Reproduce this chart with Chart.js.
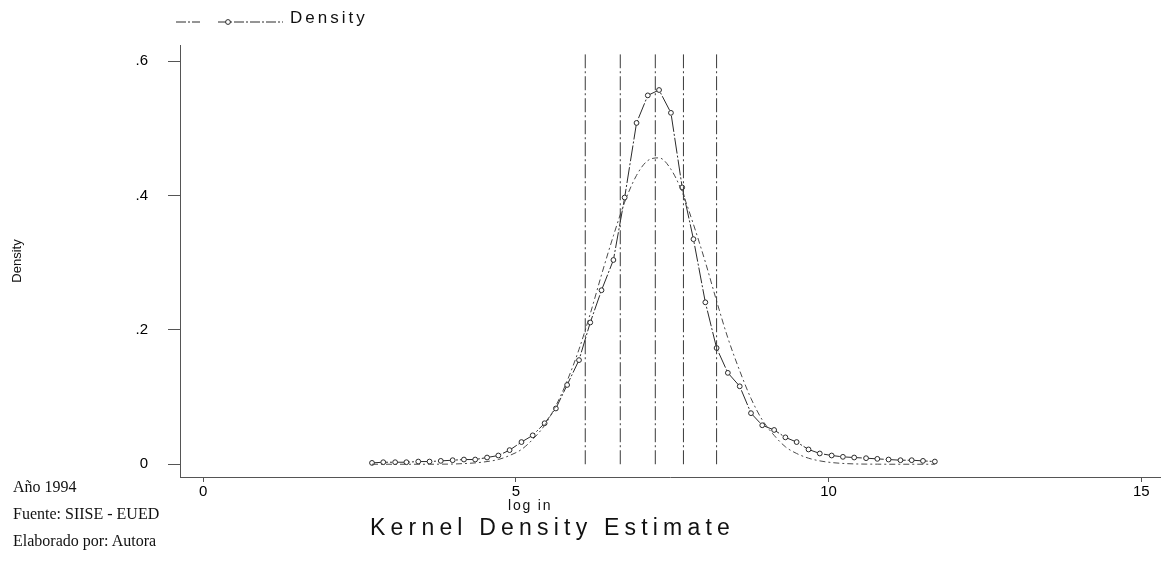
<!DOCTYPE html>
<html>
<head>
<meta charset="utf-8">
<script src="https://cdn.jsdelivr.net/npm/chart.js@4"></script>
<style>
  html, body { margin:0; padding:0; background:#fff; }
  #wrap { position:relative; width:1170px; height:561px; overflow:hidden; background:#fff; }
  #c { position:absolute; left:0; top:0; }
  .t { position:absolute; white-space:nowrap; color:#111; }
  .sans { font-family:"Liberation Sans", Arial, sans-serif; }
  .serif { font-family:"Liberation Serif", "Times New Roman", serif; }
</style>
</head>
<body>
<div id="wrap">
  <canvas id="c" width="1170" height="561"></canvas>
  <div class="t sans" id="legendText" style="left:290px; top:8px; font-size:17px; letter-spacing:3px;">Density</div>
  <div class="t sans" id="xTitle" style="left:508px; top:497px; font-size:14px; letter-spacing:1.8px;">log in</div>
  <div class="t sans" id="mainTitle" style="left:370px; top:514px; font-size:23px; letter-spacing:5.2px;">Kernel Density Estimate</div>
  <div class="t serif" style="left:13px; top:478px; font-size:16px;">Año 1994</div>
  <div class="t serif" style="left:13px; top:505px; font-size:16px;">Fuente: SIISE - EUED</div>
  <div class="t serif" style="left:13px; top:532px; font-size:16px;">Elaborado por: Autora</div>
</div>
<script>
// ---- data ----
const xGrid = [2.70, 2.88, 3.07, 3.25, 3.44, 3.62, 3.80, 3.99, 4.17, 4.35,
               4.54, 4.72, 4.90, 5.09, 5.27, 5.46, 5.64, 5.82, 6.01, 6.19,
               6.37, 6.56, 6.74, 6.93, 7.11, 7.29, 7.48, 7.66, 7.84, 8.03,
               8.21, 8.39, 8.58, 8.76, 8.94, 9.13, 9.31, 9.49, 9.68, 9.86,
               10.05, 10.23, 10.41, 10.60, 10.78, 10.96, 11.15, 11.33, 11.51, 11.70];
const kdeDensity = [0.002, 0.003, 0.003, 0.003, 0.004, 0.004, 0.005, 0.006, 0.007, 0.007,
                    0.010, 0.013, 0.021, 0.033, 0.043, 0.061, 0.083, 0.118, 0.155, 0.211,
                    0.259, 0.304, 0.397, 0.508, 0.549, 0.557, 0.523, 0.412, 0.335, 0.241,
                    0.173, 0.136, 0.116, 0.076, 0.058, 0.051, 0.040, 0.033, 0.022, 0.016,
                    0.013, 0.011, 0.010, 0.009, 0.008, 0.007, 0.006, 0.006, 0.005, 0.004];
const normalDensity = [0, 0, 0, 0, 0, 0, 0.0001, 0.0003, 0.001, 0.002,
                       0.004, 0.007, 0.013, 0.022, 0.037, 0.058, 0.087, 0.124, 0.171, 0.224,
                       0.282, 0.340, 0.390, 0.430, 0.452, 0.456, 0.439, 0.405, 0.357, 0.301,
                       0.243, 0.188, 0.139, 0.098, 0.066, 0.043, 0.026, 0.016, 0.009, 0.005,
                       0.0025, 0.0012, 0.0005, 0.0002, 0.0001, 0, 0, 0, 0, 0];
const vLineX = [6.11, 6.67, 7.23, 7.68, 8.21];
const vLineTop = 0.61;
const xTickValues = [0, 5, 10, 15];
const xTickLabels = ["0", "5", "10", "15"];
const yTickValues = [0, 0.2, 0.4, 0.6];
const yTickLabels = ["0", ".2", ".4", ".6"];
const seriesLabel = "Density";
const yTitle = "Density";

// ---- build datasets ----
const ink = '#2a2a2a';
const datasets = [];
vLineX.forEach(function (vx) {
  datasets.push({
    type: 'line', data: [{x: vx, y: 0}, {x: vx, y: vLineTop}],
    borderColor: '#3a3a3a', borderWidth: 1, borderDash: [14, 3, 2, 3],
    pointRadius: 0, fill: false
  });
});
datasets.push({
  type: 'line', label: 'normal',
  data: xGrid.map(function (x, i) { return {x: x, y: normalDensity[i]}; }),
  borderColor: '#4a4a4a', borderWidth: 1, borderDash: [6, 3, 2, 3],
  pointRadius: 0, tension: 0.4, cubicInterpolationMode: 'monotone', fill: false
});
datasets.push({
  type: 'line', label: seriesLabel,
  data: xGrid.map(function (x, i) { return {x: x, y: kdeDensity[i]}; }),
  borderColor: ink, borderWidth: 1, borderDash: [16, 2, 2, 2],
  pointRadius: 2.4, pointStyle: 'circle', pointBackgroundColor: '#fff',
  pointBorderColor: ink, pointBorderWidth: 1, fill: false, tension: 0
});

// legend sample line (drawn on the canvas, text is HTML)
const legendSample = {
  id: 'legendSample',
  afterDraw: function (chart) {
    const ctx = chart.ctx;
    ctx.save();
    ctx.strokeStyle = ink; ctx.lineWidth = 1;
    ctx.setLineDash([10, 2, 2, 2]);
    ctx.beginPath(); ctx.moveTo(176, 22); ctx.lineTo(200, 22); ctx.stroke();
    ctx.beginPath(); ctx.moveTo(218, 22); ctx.lineTo(283, 22); ctx.stroke();
    ctx.setLineDash([]);
    ctx.fillStyle = '#fff';
    ctx.beginPath(); ctx.arc(228, 22, 2.4, 0, Math.PI * 2); ctx.fill(); ctx.stroke();
    ctx.restore();
  }
};

new Chart(document.getElementById('c'), {
  type: 'line',
  data: { datasets: datasets },
  plugins: [legendSample],
  options: {
    responsive: false, animation: false, devicePixelRatio: 1,
    layout: { padding: { top: 45, right: 10, left: 0, bottom: 0 } },
    plugins: { legend: { display: false }, tooltip: { enabled: false }, title: { display: false } },
    elements: { line: { borderCapStyle: 'butt' } },
    scales: {
      x: {
        type: 'linear', position: 'bottom', min: -0.37, max: 15.3,
        afterBuildTicks: function (s) { s.ticks = xTickValues.map(function (v) { return {value: v}; }); },
        afterFit: function (s) { s.height = 84; },
        grid: { drawOnChartArea: false, drawTicks: true, tickLength: 5, color: '#555', lineWidth: 1 },
        border: { display: true, color: '#555', width: 1, dash: [14, 2] },
        ticks: {
          padding: 1, color: '#000', maxRotation: 0, autoSkip: false,
          font: { family: '"Liberation Sans", Arial, sans-serif', size: 15 },
          callback: function (v) { const k = xTickValues.indexOf(v); return k >= 0 ? xTickLabels[k] : ''; }
        }
      },
      y: {
        type: 'linear', position: 'left', min: -0.019, max: 0.624,
        afterBuildTicks: function (s) { s.ticks = yTickValues.map(function (v) { return {value: v}; }); },
        afterFit: function (s) { s.width = 180; },
        grid: { drawOnChartArea: false, drawTicks: true, tickLength: 12, color: '#555', lineWidth: 1 },
        border: { display: true, color: '#555', width: 1, dash: [14, 2] },
        title: { display: true, text: yTitle, color: '#111', padding: { top: 10, bottom: 0 },
                 font: { family: '"Liberation Sans", Arial, sans-serif', size: 13 } },
        ticks: {
          padding: 20, color: '#000',
          font: { family: '"Liberation Sans", Arial, sans-serif', size: 15 },
          callback: function (v) { const k = yTickValues.indexOf(v); return k >= 0 ? yTickLabels[k] : ''; }
        }
      }
    }
  }
});
</script>
</body>
</html>
